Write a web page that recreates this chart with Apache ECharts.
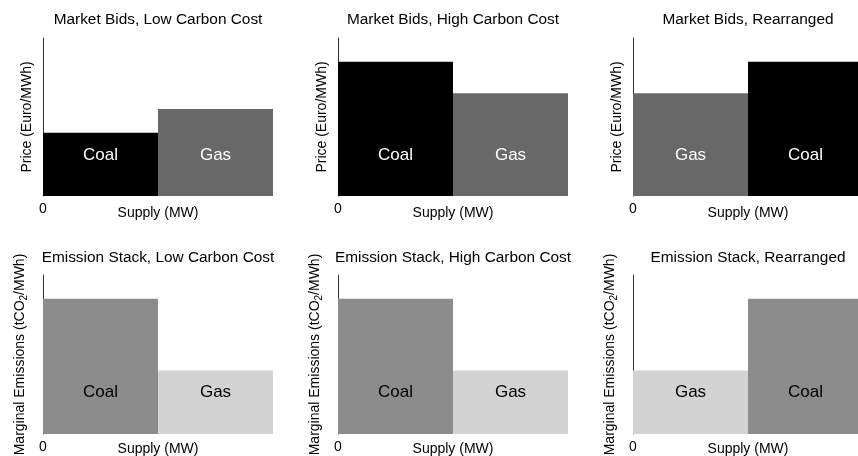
<!DOCTYPE html>
<html>
<head>
<meta charset="utf-8">
<script src="https://cdn.jsdelivr.net/npm/echarts@6/dist/echarts.min.js"></script>
<style>
html,body{margin:0;padding:0;background:#fff;}
#chart{width:858px;height:456px;}
</style>
</head>
<body>
<div id="chart"></div>
<script>
// ---- Data ----
const capacityMW = [100, 100];              // supply block widths (same for both plants)
const lowCarbonOrder = ['Coal', 'Gas'];
const lowCarbonPrice = [40, 55];            // Euro/MWh
const highCarbonOrder = ['Coal', 'Gas'];
const highCarbonPrice = [85, 65];
const rearrangedOrder = ['Gas', 'Coal'];
const rearrangedPrice = [65, 85];
const emissionLowOrder = ['Coal', 'Gas'];
const emissionLow = [85, 40];               // tCO2/MWh
const emissionHighOrder = ['Coal', 'Gas'];
const emissionHigh = [85, 40];
const emissionRearrangedOrder = ['Gas', 'Coal'];
const emissionRearranged = [40, 85];
const panelTitles = [
  'Market Bids, Low Carbon Cost', 'Market Bids, High Carbon Cost', 'Market Bids, Rearranged',
  'Emission Stack, Low Carbon Cost', 'Emission Stack, High Carbon Cost', 'Emission Stack, Rearranged'
];
const xTickLabels = ['0'];

// ---- Style ----
const FONT = "'Liberation Sans', Arial, Helvetica, sans-serif";
const topColors = {Coal: '#000000', Gas: '#686868'};
const botColors = {Coal: '#8c8c8c', Gas: '#d3d3d3'};
const lefts = [43, 338, 633];
const W = 230;
const rows = [{top: 38, height: 158, titleY: 20}, {top: 275, height: 159, titleY: 258}];
const LABEL_LEVEL = 26;

const panels = [
  {order: lowCarbonOrder, values: lowCarbonPrice, row: 0, col: 0},
  {order: highCarbonOrder, values: highCarbonPrice, row: 0, col: 1},
  {order: rearrangedOrder, values: rearrangedPrice, row: 0, col: 2},
  {order: emissionLowOrder, values: emissionLow, row: 1, col: 0},
  {order: emissionHighOrder, values: emissionHigh, row: 1, col: 1},
  {order: emissionRearrangedOrder, values: emissionRearranged, row: 1, col: 2}
];

const totalCap = capacityMW.reduce((a, b) => a + b, 0);
const grid = [], xAxis = [], yAxis = [], series = [], graphic = [];

panels.forEach((p, i) => {
  const r = rows[p.row];
  grid.push({left: lefts[p.col], top: r.top, width: W, height: r.height,
             containLabel: false, outerBoundsMode: 'none'});
  graphic.push({
    type: 'text', x: lefts[p.col] + W / 2, y: r.titleY, silent: true,
    style: {text: panelTitles[i], align: 'center', verticalAlign: 'middle',
            textAlign: 'center', textVerticalAlign: 'middle',
            font: '15.4px ' + FONT, fill: '#000'}
  });
  xAxis.push({
    type: 'value', gridIndex: i, min: 0, max: totalCap, interval: 100,
    axisLine: {show: false}, axisTick: {show: false}, splitLine: {show: false},
    axisLabel: {
      fontFamily: FONT, fontSize: 14, color: '#000', margin: 6,
      formatter: v => (v === 0 ? xTickLabels[0] : '')
    },
    name: 'Supply (MW)', nameLocation: 'middle', nameGap: p.row === 0 ? 10 : 8,
    nameMoveOverlap: false,
    nameTextStyle: {fontFamily: FONT, fontSize: 14, color: '#000'}
  });
  const yName = p.row === 0
    ? 'Price (Euro/MWh)'
    : '{a|Marginal Emissions (tCO}{s|2}{a|/MWh)}';
  yAxis.push({
    type: 'value', gridIndex: i, min: 0, max: 100,
    axisLine: {show: true, lineStyle: {color: '#333', width: 1}},
    axisTick: {show: false}, axisLabel: {show: false}, splitLine: {show: false},
    name: yName, nameLocation: 'middle', nameGap: p.row === 0 ? 9 : 15,
    nameMoveOverlap: false,
    nameTextStyle: {
      fontFamily: FONT, fontSize: 14, color: '#000',
      rich: {
        a: {fontFamily: FONT, fontSize: 14, color: '#000', lineHeight: 16},
        s: {fontFamily: FONT, fontSize: 10, color: '#000', lineHeight: 16, padding: [9, 0, 0, 0]}
      }
    }
  });
  let cum = 0;
  const data = p.order.map((name, k) => {
    const x0 = cum; cum += capacityMW[k];
    return {value: [x0, cum, p.values[k]], name: name};
  });
  const colors = p.row === 0 ? topColors : botColors;
  const textColor = p.row === 0 ? '#fff' : '#000';
  series.push({
    type: 'custom', xAxisIndex: i, yAxisIndex: i, data: data, clip: false,
    renderItem: (params, api) => {
      const name = data[params.dataIndex].name;
      const a = api.coord([api.value(0), 0]);
      const b = api.coord([api.value(1), api.value(2)]);
      const c = api.coord([(api.value(0) + api.value(1)) / 2, LABEL_LEVEL]);
      return {
        type: 'group',
        children: [
          {type: 'rect', shape: {x: a[0], y: b[1], width: b[0] - a[0], height: a[1] - b[1]},
           style: {fill: colors[name]}},
          {type: 'text', style: {text: name, x: c[0], y: c[1], align: 'center', verticalAlign: 'middle',
            fill: textColor, font: '17px ' + FONT}}
        ]
      };
    }
  });
});

const chart = echarts.init(document.getElementById('chart'), null, {renderer: 'canvas'});
chart.setOption({animation: false, backgroundColor: '#fff', graphic, grid, xAxis, yAxis, series});
</script>
</body>
</html>
